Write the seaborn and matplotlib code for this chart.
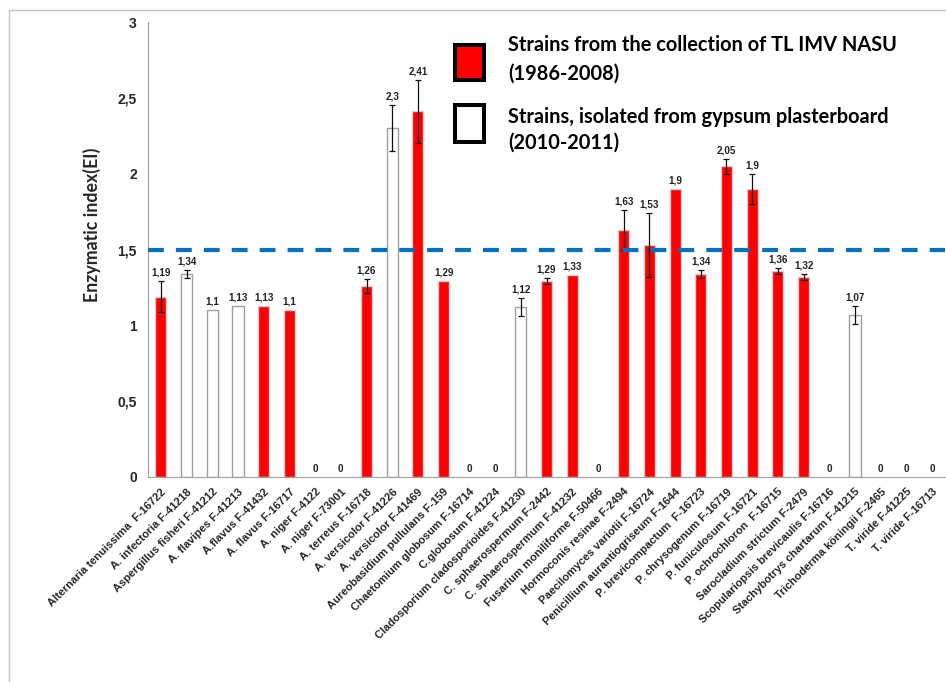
import numpy as np
import pandas as pd
import matplotlib
matplotlib.use("Agg")
import matplotlib.pyplot as plt
from matplotlib.patches import Rectangle
from matplotlib.ticker import FixedLocator, FuncFormatter
import seaborn as sns

# Strains tested, in plotting order
strains = [
    "Alternaria tenuissima  F-16722",
    "A. infectoria F-41218",
    "Aspergillus fisheri F-41212",
    "A. flavipes F-41213",
    "A.flavus F-41432",
    "A. flavus F-16717",
    "A. niger F-4122",
    "A. niger F-73001",
    "A. terreus F-16718",
    "A. versicolor F-41226",
    "A. versicolor F-41469",
    "Aureobasidium pullulans F-159",
    "Chaetomium globosum F-16714",
    "C.globosum F-41224",
    "Cladosporium cladosporioides F-41230",
    "C. sphaerospermum F-2442",
    "C. sphaerospermum F-41232",
    "Fusarium moniliforme F-50466",
    "Hormoconis resinae F-2494",
    "Paecilomyces variotii F-16724",
    "Penicillium aurantiogriseum F-1644",
    "P. brevicompactum  F-16723",
    "P. chrysogenum F-16719",
    "P. funiculosum F-16721",
    "P. ochrochloron  F-16715",
    "Sarocladium strictum F-2479",
    "Scopulariopsis brevicaulis F-16716",
    "Stachybotrys chartarum F-41215",
    "Trichoderma köningii F-2465",
    "T. viride F-41225",
    "T. viride F-16713",
]

# Enzymatic index and its spread
ei = [1.19, 1.34, 1.1, 1.13, 1.13, 1.1, 0, 0, 1.26, 2.3, 2.41, 1.29, 0, 0,
      1.12, 1.29, 1.33, 0, 1.63, 1.53, 1.9, 1.34, 2.05, 1.9, 1.36, 1.32, 0,
      1.07, 0, 0, 0]
ei_err = [0.10, 0.025, 0, 0, 0, 0, 0, 0, 0.045, 0.15, 0.21, 0, 0, 0,
          0.06, 0.02, 0, 0, 0.13, 0.21, 0, 0.025, 0.05, 0.10, 0.02, 0.02, 0,
          0.06, 0, 0, 0]

# Origin of each strain: "col" = collection, "gyp" = gypsum plasterboard
source = ["col", "gyp", "gyp", "gyp", "col", "col", "col", "col", "col",
          "gyp", "col", "col", "col", "col", "gyp", "col", "col", "col",
          "col", "col", "col", "col", "col", "col", "col", "col", "col",
          "gyp", "col", "col", "col"]

source_labels = {
    "col": ["Strains from the collection of TL IMV NASU", "(1986-2008)"],
    "gyp": ["Strains, isolated from gypsum plasterboard", "(2010-2011)"],
}
threshold = 1.5
y_ticks = [0, 0.5, 1, 1.5, 2, 2.5, 3]

sns.set_style("white")
plt.rcParams["font.family"] = ["Liberation Sans", "DejaVu Sans"]

fill = {"col": "#FF0000", "gyp": "#FFFFFF"}
edge = {"col": "#D0D0D0", "gyp": "#A0A0A0"}

df = pd.DataFrame({"strain": strains, "ei": ei, "err": ei_err, "source": source})

W, H = 946, 682
fig = plt.figure(figsize=(W / 100, H / 100), dpi=100)
ax = fig.add_axes([148 / W, 1 - 477 / H, (945 - 148) / W, (477 - 22) / H])

sns.barplot(data=df, x="strain", y="ei", hue="source", order=strains,
            hue_order=["col", "gyp"], palette=fill, saturation=1, dodge=False,
            width=0.43, errorbar=None, legend=False, linewidth=1.0, ax=ax,
            zorder=2)

# outline colour per group; empty bars get no outline
for cont, key in zip(ax.containers, ["col", "gyp"]):
    for p in cont:
        if p.get_height() == 0:
            p.set_edgecolor("none")
        else:
            p.set_edgecolor(edge[key])

pos = np.arange(len(strains))
vals = np.array(ei)
errs = np.array(ei_err)
m = errs > 0
ax.errorbar(pos[m], vals[m], yerr=errs[m], fmt="none", ecolor="#111111",
            elinewidth=0.9, capsize=2.3, capthick=0.9, zorder=3)

for i, (v, e) in enumerate(zip(vals, errs)):
    lab = f"{v:g}".replace(".", ",")
    ax.annotate(lab, xy=(i, v + e), xytext=(0, 2.5), textcoords="offset points",
                ha="center", va="bottom", fontsize=7.1, fontweight="bold",
                color="#222222", zorder=4)

ax.axhline(threshold, color="#0070C0", lw=3.0, dashes=(3.8, 2.9), zorder=5)

ax.set_xlim(-0.5, len(strains) - 0.5)
ax.set_ylim(0, 3)
ax.yaxis.set_major_locator(FixedLocator(y_ticks))
ax.yaxis.set_major_formatter(FuncFormatter(lambda v, _: f"{v:g}".replace(".", ",")))
ax.tick_params(axis="y", which="major", direction="out", length=4, width=0.8,
               color="#A0A0A0", labelsize=10, pad=4)
for t in ax.get_yticklabels():
    t.set_fontweight("bold")

ax.xaxis.set_minor_locator(FixedLocator(np.arange(len(strains) + 1) - 0.5))
ax.tick_params(axis="x", which="minor", direction="out", length=5, width=0.8,
               color="#A0A0A0")
ax.tick_params(axis="x", which="major", length=0, pad=7)
ax.set_xticks(pos)
ax.set_xticklabels(strains, rotation=45, ha="right", rotation_mode="anchor",
                   fontsize=8, fontweight="bold")
ax.set_xlabel("")

ax.set_ylabel("Enzymatic index(EI)", fontsize=12.8, fontweight="bold",
              family=["Lato", "DejaVu Sans"])
ax.yaxis.set_label_coords(-0.059, 0.554)

for s in ["top", "right"]:
    ax.spines[s].set_visible(False)
for s in ["left", "bottom"]:
    ax.spines[s].set_color("#A0A0A0")
    ax.spines[s].set_linewidth(0.8)

# Key: thick-outlined swatches with two-line captions (pixel layout, top-left origin)
key_font = dict(family=["Lato", "DejaVu Sans"], weight="bold", size=14.4,
                color="black")
key_rows = [
    ("col", (44.5, 35.0), (50.7, 80.0)),
    ("gyp", (104.5, 37.0), (123.3, 148.3)),
]
for key, (top, height), baselines in key_rows:
    fig.patches.append(Rectangle((454.5 / W, 1 - (top + height) / H),
                                 29.5 / W, height / H,
                                 transform=fig.transFigure,
                                 facecolor=fill[key], edgecolor="black",
                                 linewidth=2.9, zorder=6))
    for line, base in zip(source_labels[key], baselines):
        fig.text(508 / W, 1 - base / H, line, va="baseline", ha="left",
                 **key_font)

# chart-area frame
fig.patches.append(Rectangle((9 / W, -0.1), 1.2, 1.1 - 10 / H,
                             transform=fig.transFigure, fill=False,
                             edgecolor="#C4C4C4", linewidth=1.0))

fig.savefig("out.png", dpi=100)
